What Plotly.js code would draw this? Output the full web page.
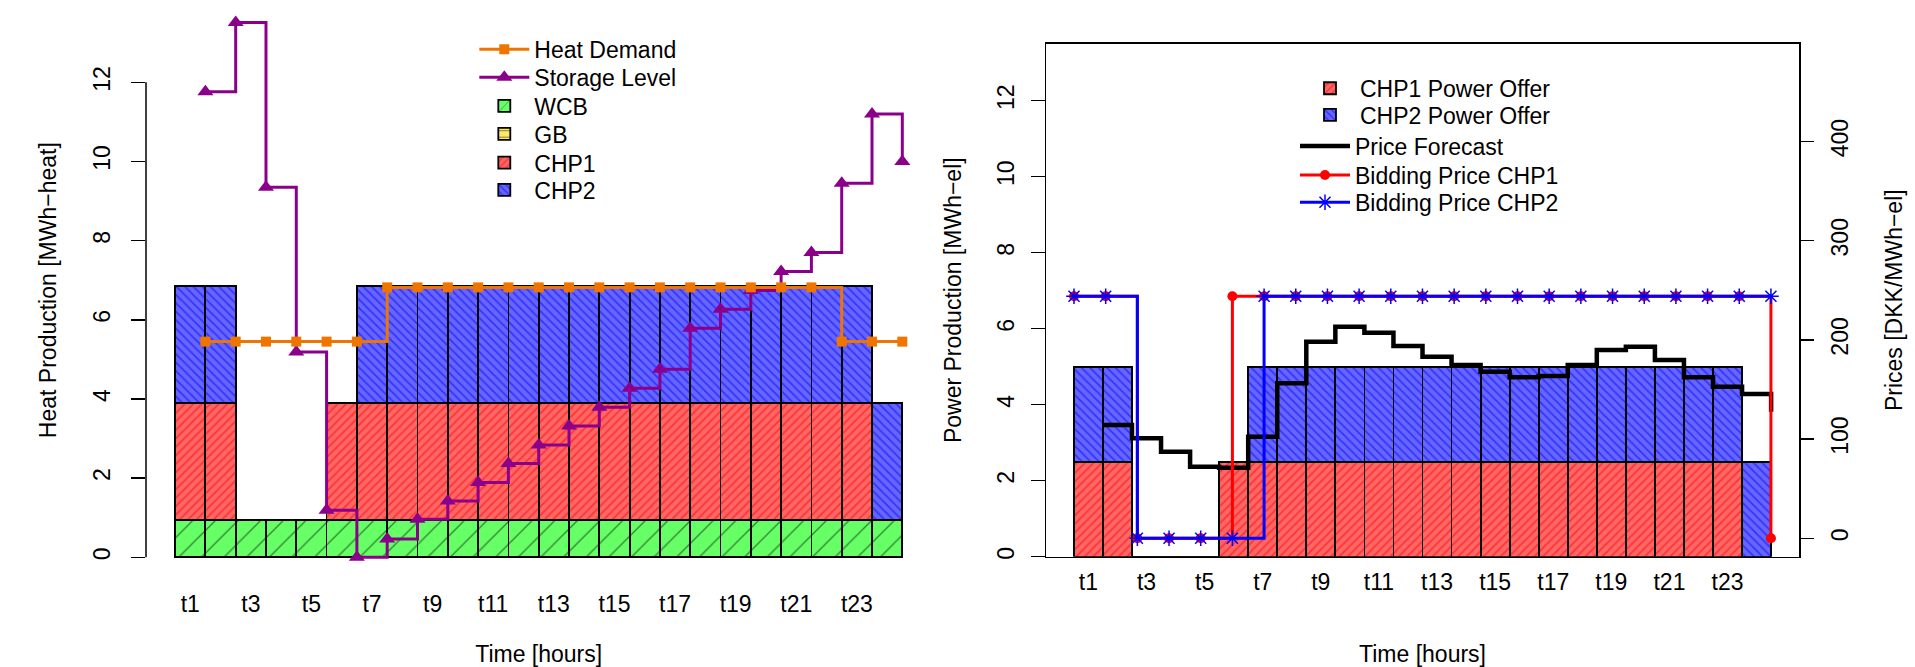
<!DOCTYPE html>
<html>
<head>
<meta charset="utf-8">
<script src="https://cdn.plot.ly/plotly-3.0.1.min.js"></script>
<style>
html,body{margin:0;padding:0;background:#ffffff;}
#chart{width:1915px;height:667px;}
</style>
</head>
<body>
<div id="chart"></div>
<script>
// ---------------- data ----------------
const hours = [1,2,3,4,5,6,7,8,9,10,11,12,13,14,15,16,17,18,19,20,21,22,23,24];
const timeLabels = hours.map(h => 't' + h);

// Left chart: heat production [MWh-heat]
const heatWCB  = [0.94,0.94,0.94,0.94,0.94,0.94,0.94,0.94,0.94,0.94,0.94,0.94,0.94,0.94,0.94,0.94,0.94,0.94,0.94,0.94,0.94,0.94,0.94,0.94];
const heatGB   = [0,0,0,0,0,0,0,0,0,0,0,0,0,0,0,0,0,0,0,0,0,0,0,0];
const heatCHP1 = [2.95,2.95,0,0,0,2.95,2.95,2.95,2.95,2.95,2.95,2.95,2.95,2.95,2.95,2.95,2.95,2.95,2.95,2.95,2.95,2.95,2.95,0];
const heatCHP2 = [2.96,2.96,0,0,0,0,2.96,2.96,2.96,2.96,2.96,2.96,2.96,2.96,2.96,2.96,2.96,2.96,2.96,2.96,2.96,2.96,2.96,2.95];
const heatDemand = [5.45,5.45,5.45,5.45,5.45,5.45,6.82,6.82,6.82,6.82,6.82,6.82,6.82,6.82,6.82,6.82,6.82,6.82,6.82,6.82,6.82,5.45,5.45,5.45];
const storageLevel = [11.76,13.51,9.35,5.19,1.19,0,0.46,0.96,1.42,1.89,2.37,2.84,3.32,3.79,4.27,4.75,5.79,6.27,6.74,7.22,7.70,9.45,11.20,10.0];

// Right chart: power production [MWh-el] and prices [DKK/MWh-el]
const powerCHP1 = [2.5,2.5,0,0,0,2.5,2.5,2.5,2.5,2.5,2.5,2.5,2.5,2.5,2.5,2.5,2.5,2.5,2.5,2.5,2.5,2.5,2.5,0];
const powerCHP2 = [2.5,2.5,0,0,0,0,2.5,2.5,2.5,2.5,2.5,2.5,2.5,2.5,2.5,2.5,2.5,2.5,2.5,2.5,2.5,2.5,2.5,2.5];
const priceForecast = [114.3,100.8,87.3,72.2,71.2,102.4,156.3,198.2,213.3,207.3,193.9,183.1,174.7,168.0,162.3,163.6,174.7,189.8,193.1,179.7,162.3,152.8,145.5,127.6];
const bidSteps = [1,2,3,4,5,6,7,8,9,10,11,12,13,14,15,16,17,18,19,20,21,22,23];
const bidCHP1 = [244,244,0,0,0,244,244,244,244,244,244,244,244,244,244,244,244,244,244,244,244,244,0];
const bidCHP2 = [244,244,0,0,0,0,244,244,244,244,244,244,244,244,244,244,244,244,244,244,244,244,244];

// tick labels: every other hour, centred under its bar
const oddHours = hours.filter(h => h % 2 === 1);
const tickPos = oddHours.map(h => h - 0.5);
const tickTxt = oddHours.map(h => 't' + h);

// ---------------- styles ----------------
const FONT = 'Liberation Sans, Arial, Helvetica, sans-serif';
const FS = 23;
const W = 1915, H = 667;
const px = v => v / W;
const py = v => 1 - v / H;

const GREEN = '#66FF66', YELLOW = '#FFE866', RED = '#FF6666', BLUE = '#6666FF';
const barLine = {color: '#000000', width: 1.8};

function barTrace(name, vals, color, pattern, xa, ya, legend) {
  return {
    type: 'bar', name: name, x: hours, y: vals, width: 1, offset: -1,
    xaxis: xa, yaxis: ya, legend: legend,
    marker: {color: color, line: barLine,
      pattern: Object.assign({fillmode: 'overlay'}, pattern)},
    hoverinfo: 'skip'
  };
}

const PAT_RED  = {shape: '/',  fgcolor: '#FF0000', size: 6, solidity: 0.3};
const PAT_BLUE = {shape: '\\', fgcolor: '#0000FF', size: 6, solidity: 0.3};

const traces = [
  barTrace('WCB', heatWCB, GREEN, {shape: '/', fgcolor: '#000000', size: 16, solidity: 0.08}, 'x', 'y', 'legend3'),
  barTrace('GB', heatGB, YELLOW, {shape: '-', fgcolor: '#000000', size: 8, solidity: 0.15}, 'x', 'y', 'legend4'),
  barTrace('CHP1', heatCHP1, RED, PAT_RED, 'x', 'y', 'legend5'),
  barTrace('CHP2', heatCHP2, BLUE, PAT_BLUE, 'x', 'y', 'legend6'),
  {type: 'scatter', mode: 'lines+markers', name: 'Storage Level', x: hours, y: storageLevel,
   xaxis: 'x', yaxis: 'y', legend: 'legend2', cliponaxis: false,
   line: {color: '#8B008B', width: 3, shape: 'hv'},
   marker: {symbol: 'triangle-up', size: 14, color: '#8B008B'}},
  {type: 'scatter', mode: 'lines+markers', name: 'Heat Demand', x: hours, y: heatDemand,
   xaxis: 'x', yaxis: 'y', legend: 'legend', cliponaxis: false,
   line: {color: '#EE7600', width: 3, shape: 'hv'},
   marker: {symbol: 'square', size: 10, color: '#EE7600'}},

  barTrace('CHP1 Power Offer', powerCHP1, RED, PAT_RED, 'x2', 'y2', 'legend7'),
  barTrace('CHP2 Power Offer', powerCHP2, BLUE, PAT_BLUE, 'x2', 'y2', 'legend8'),
  {type: 'scatter', mode: 'lines', name: 'Price Forecast', x: hours, y: priceForecast,
   xaxis: 'x2', yaxis: 'y3', legend: 'legend9',
   line: {color: '#000000', width: 4.5, shape: 'hv'}},
  {type: 'scatter', mode: 'lines+markers', name: 'Bidding Price CHP1', x: bidSteps, y: bidCHP1,
   xaxis: 'x3', yaxis: 'y3', legend: 'legend10', cliponaxis: false,
   line: {color: '#FF0000', width: 3, shape: 'hv'},
   marker: {symbol: 'circle', size: 10, color: '#FF0000'}},
  {type: 'scatter', mode: 'lines+markers', name: 'Bidding Price CHP2', x: bidSteps, y: bidCHP2,
   xaxis: 'x3', yaxis: 'y3', legend: 'legend11', cliponaxis: false,
   line: {color: '#0000FF', width: 3, shape: 'hv'},
   marker: {symbol: 'asterisk-open', size: 13, color: '#0000FF', line: {color: '#0000FF', width: 1.5}}}
];

function legendAt(xText, yRow) {
  return {x: px(xText - 60), y: py(yRow), xanchor: 'left', yanchor: 'middle',
          bgcolor: 'rgba(0,0,0,0)', borderwidth: 0, itemwidth: 50,
          font: {family: FONT, size: FS, color: '#000000'}, itemclick: false, itemdoubleclick: false};
}

const tickFont = {family: FONT, size: FS, color: '#000000'};
const titleFont = {family: FONT, size: FS, color: '#000000'};

const layout = {
  width: W, height: H,
  margin: {l: 0, r: 0, t: 0, b: 0, pad: 0},
  paper_bgcolor: '#ffffff', plot_bgcolor: 'rgba(0,0,0,0)',
  barmode: 'stack', bargap: 0,
  font: {family: FONT, size: FS, color: '#000000'},
  hovermode: false,
  xaxis: {domain: [px(146), px(931.4)], range: [-0.96, 24.96], anchor: 'y',
    showline: false, zeroline: false, showgrid: false,
    tickmode: 'array', tickvals: tickPos, ticktext: tickTxt,
    ticks: 'outside', ticklen: 5, tickcolor: 'rgba(0,0,0,0)', tickfont: tickFont,
    title: {text: 'Time [hours]', font: titleFont, standoff: 35}},
  yaxis: {domain: [py(578.7), py(1.6)], range: [-0.54, 14.04], anchor: 'x',
    showline: false, zeroline: false, showgrid: false,
    tickmode: 'array', tickvals: [0,2,4,6,8,10,12],
    ticks: 'outside', ticklen: 14, tickwidth: 1.5, tickcolor: '#000000',
    tickangle: -90, tickfont: tickFont, ticklabelstandoff: 12,
    title: {text: 'Heat Production [MWh−heat]', font: titleFont, standoff: 25}},

  xaxis2: {domain: [px(1046), px(1799)], range: [-0.96, 24.96], anchor: 'y2',
    showline: true, mirror: true, linecolor: '#000000', linewidth: 1.5,
    zeroline: false, showgrid: false,
    tickmode: 'array', tickvals: tickPos, ticktext: tickTxt,
    ticks: 'outside', ticklen: 4, tickcolor: 'rgba(0,0,0,0)', tickfont: tickFont,
    title: {text: 'Time [hours]', font: titleFont, standoff: 52}},
  yaxis2: {domain: [py(556.7), py(43.7)], range: [0, 13.5], anchor: 'x2',
    showline: true, mirror: true, linecolor: '#000000', linewidth: 1.5,
    zeroline: false, showgrid: false,
    tickmode: 'array', tickvals: [0,2,4,6,8,10,12],
    ticks: 'outside', ticklen: 14, tickwidth: 1.5, tickcolor: '#000000',
    tickangle: -90, tickfont: tickFont, ticklabelstandoff: 7,
    title: {text: 'Power Production [MWh−el]', font: titleFont, standoff: 25}},
  yaxis3: {overlaying: 'y2', side: 'right', anchor: 'x2', range: [-18.55, 498.6],
    showline: false, zeroline: false, showgrid: false,
    tickmode: 'array', tickvals: [0,100,200,300,400],
    ticks: 'outside', ticklen: 14, tickwidth: 1.5, tickcolor: '#000000',
    tickangle: -90, tickfont: tickFont, ticklabelstandoff: 6,
    title: {text: 'Prices [DKK/MWh−el]', font: titleFont, standoff: 34}},
  xaxis3: {overlaying: 'x2', anchor: 'y3', range: [0.116, 23.886], visible: false},

  shapes: [
    {type: 'line', xref: 'x domain', yref: 'y', x0: 0, x1: 0, y0: 0, y1: 12,
     line: {color: '#000000', width: 1.5}, layer: 'above'}
  ],

  showlegend: true,
  legend:   legendAt(534.3, 49.3),
  legend2:  legendAt(534.3, 77.3),
  legend3:  legendAt(534.3, 106),
  legend4:  legendAt(534.3, 134),
  legend5:  legendAt(534.3, 162.7),
  legend6:  legendAt(534.3, 190),
  legend7:  legendAt(1360, 88.3),
  legend8:  legendAt(1360, 115),
  legend9:  legendAt(1355, 146),
  legend10: legendAt(1355, 175),
  legend11: legendAt(1355, 202.3)
};

Plotly.newPlot('chart', traces, layout, {displayModeBar: false, staticPlot: true});
</script>
</body>
</html>
